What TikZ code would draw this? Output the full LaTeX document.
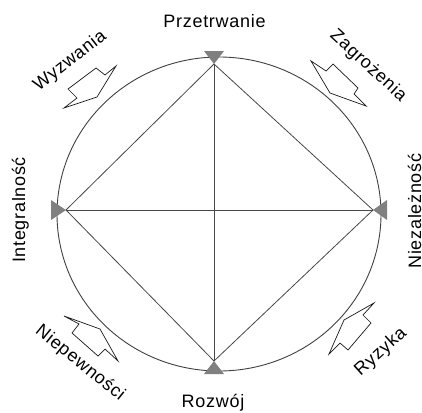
\documentclass[tikz,border=0pt]{standalone}
\usepackage{fontspec}
\setmainfont{Liberation Sans}[LetterSpace=4]
\begin{document}
\begin{tikzpicture}[x=1pt,y=-1pt,
  lbl/.style={inner sep=0pt, font=\fontsize{18}{21}\selectfont, text=black},
  edge/.style={draw=black!72, line width=0.8pt},
  tri/.style={fill=black!50, draw=none},
  barrow/.style={draw=black!90, fill=white, line width=0.7pt, line join=miter}]
\useasboundingbox (0,0) rectangle (422,412);
\clip (0,0) rectangle (422,412);
% circle
\draw[black!75, line width=0.9pt] (219,214) ellipse [x radius=162pt, y radius=157pt];
% vertices (triangle apexes)
\coordinate (top) at (214,64);
\coordinate (bot) at (214,361);
\coordinate (lft) at (66,210);
\coordinate (rgt) at (373,210);
% diamond and cross
\draw[edge] (top) -- (lft) -- (bot) -- (rgt) -- cycle;
\draw[edge] (top) -- (bot);
\draw[edge] (lft) -- (rgt);
% triangles
\fill[tri] (204,51) -- (224,51) -- (top) -- cycle;
\fill[tri] (204,374) -- (224,374) -- (bot) -- cycle;
\fill[tri] (51,200) -- (51,220) -- (lft) -- cycle;
\fill[tri] (387,200) -- (387,220) -- (rgt) -- cycle;
% block arrows
\draw[barrow] (68,89) -- (96,68) -- (105,75) -- (116,66) -- (97,97) -- (64,108) -- (77,98) -- cycle;
\draw[barrow] (311,61) -- (326,71) -- (333,64) -- (358,88) -- (354,94) -- (366,106) -- (330,93) -- cycle;
\draw[barrow] (64,316) -- (79,324) -- (72,333) -- (98,356) -- (105,349) -- (118,361) -- (100,329) -- cycle;
\draw[barrow] (374,303) -- (363,315) -- (371,323) -- (348,350) -- (340,343) -- (329,354) -- (344,320) -- cycle;
% labels
\node[lbl, anchor=base] (przetrwanie) at (214.5,28) {Przetrwanie};
\node[lbl, anchor=base] (rozwoj) at (213,407) {Rozwój};
\node[lbl, anchor=base, rotate=90] (integralnosc) at (25,210) {Integralność};
\node[lbl, anchor=base, rotate=90] (niezaleznosc) at (421,211) {Niezależność};
\node[lbl, anchor=base, rotate=38] (wyzwania) at (73,65) {Wyzwania};
\node[lbl, anchor=base, rotate=-42.6] (zagrozenia) at (365,69.5) {Zagrożenia};
\node[lbl, anchor=base, rotate=-39] (niepewnosci) at (77,367) {Niepewności};
\node[lbl, anchor=base, rotate=42] (ryzyka) at (384,355.5) {Ryzyka};
\end{tikzpicture}
\end{document}
